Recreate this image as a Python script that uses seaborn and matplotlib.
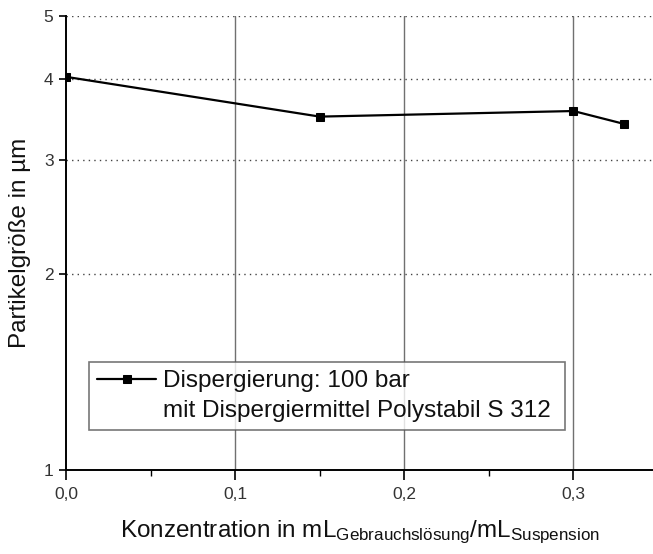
import matplotlib
matplotlib.use("Agg")
import matplotlib.pyplot as plt
import seaborn as sns
import pandas as pd
from matplotlib.ticker import FixedLocator, FuncFormatter, NullLocator

konzentration = [0.0, 0.15, 0.30, 0.33]
partikelgroesse = [4.03, 3.50, 3.57, 3.41]
legend_line1 = "Dispergierung: 100 bar"
legend_line2 = "mit Dispergiermittel Polystabil S 312"
y_ticks = [1, 2, 3, 4, 5]
x_ticks = [0.0, 0.1, 0.2, 0.3]
x_minor = [0.05, 0.15, 0.25]

sns.set_style("white")
plt.rcParams['font.family'] = ['Liberation Sans', 'DejaVu Sans']
plt.rcParams['mathtext.fontset'] = 'custom'
plt.rcParams['mathtext.rm'] = 'Liberation Sans'
plt.rcParams['mathtext.it'] = 'Liberation Sans'

df = pd.DataFrame({"x": konzentration, "y": partikelgroesse})

fig = plt.figure(figsize=(6.53, 5.54), dpi=100)
ax = fig.add_axes([66/653, 84/554, 587/653, 454/554])

sns.lineplot(data=df, x="x", y="y", ax=ax, color="black", linewidth=1.6,
             marker="s", markersize=6, markeredgecolor="black",
             markerfacecolor="black", label=legend_line1, zorder=5)
ax.plot([], [], color="none", label=legend_line2)

ax.set_yscale("log")
ax.set_ylim(1, 5)
ax.set_xlim(0, 0.347)
ax.yaxis.set_major_locator(FixedLocator(y_ticks))
ax.yaxis.set_minor_locator(NullLocator())
ax.yaxis.set_major_formatter(FuncFormatter(lambda v, p: f"{v:g}"))
ax.xaxis.set_major_locator(FixedLocator(x_ticks))
ax.xaxis.set_minor_locator(FixedLocator(x_minor))
ax.xaxis.set_major_formatter(FuncFormatter(lambda v, p: f"{v:.1f}".replace(".", ",")))

ax.grid(False)
for yv in y_ticks[1:]:
    ax.axhline(yv, color="#444444", linestyle=(0, (1, 3)), linewidth=1.0, zorder=0)
for xv in x_ticks[1:]:
    ax.axvline(xv, color="#707070", linestyle="-", linewidth=1.0, zorder=0)

for s in ["top", "right"]:
    ax.spines[s].set_visible(False)
for s in ["left", "bottom"]:
    ax.spines[s].set_color("black")
    ax.spines[s].set_linewidth(1.4)

ax.tick_params(axis="y", which="major", direction="out", length=5, width=1.2,
               color="black", labelsize=12.5, labelcolor="#333333", left=True, pad=4)
ax.tick_params(axis="x", which="major", direction="out", length=7, width=1.2,
               color="black", labelsize=12.5, labelcolor="#333333", bottom=True, pad=5)
ax.tick_params(axis="x", which="minor", direction="out", length=4, width=1.0,
               color="black", bottom=True)

ax.set_ylabel("Partikelgröße in µm", fontsize=17.5, labelpad=9, color="#111111")
ax.set_xlabel(r"Konzentration in mL$_{\mathrm{Gebrauchslösung}}$/mL$_{\mathrm{Suspension}}$",
              fontsize=17.5, labelpad=12, color="#111111")

leg = ax.legend(loc="lower left", bbox_to_anchor=(0.039, 0.088, 0.811, 0.163),
                mode="expand", fontsize=17.5, frameon=True, fancybox=False,
                edgecolor="#555555", handlelength=2.4, borderpad=0.35,
                handletextpad=0.3, borderaxespad=0, labelspacing=0.3)
leg.get_frame().set_linewidth(1.2)
for t in leg.get_texts():
    t.set_color("#111111")

fig.savefig("out.png", dpi=100)
